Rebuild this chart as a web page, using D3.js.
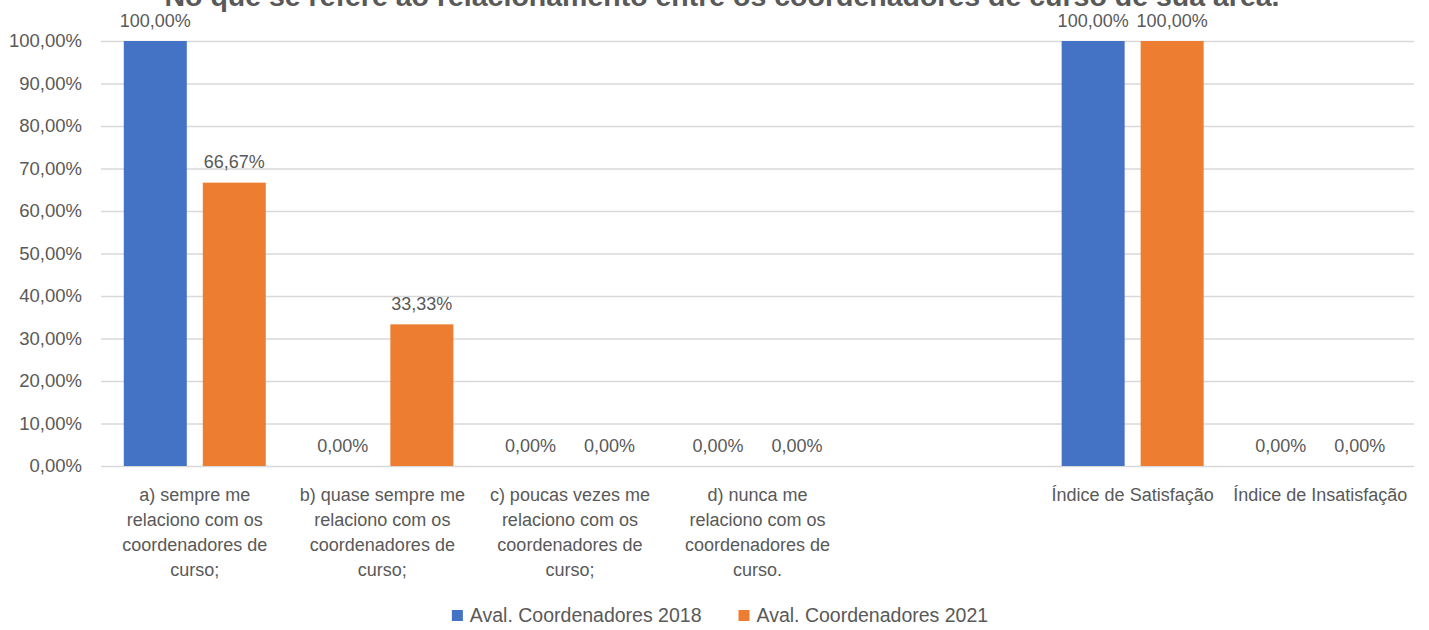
<!DOCTYPE html>
<html>
<head>
<meta charset="utf-8">
<script src="https://cdn.jsdelivr.net/npm/d3@7"></script>
<style>
  html, body { margin: 0; padding: 0; background: #fff; }
  svg { display: block; font-family: 'Liberation Sans', Arial, sans-serif; }
</style>
</head>
<body>
<script>
'use strict';

const WIDTH = 1429;
const HEIGHT = 630;

const TITLE = 'No que se refere ao relacionamento entre os coordenadores de curso de sua área.';

// Category keys, with the wrapped lines of each axis label.
const CATEGORIES = ['a', 'b', 'c', 'd', 'blank', 'sat', 'insat'];
const CATEGORY_LINES = [
    ['a) sempre me', 'relaciono com os', 'coordenadores de', 'curso;'],
    ['b) quase sempre me', 'relaciono com os', 'coordenadores de', 'curso;'],
    ['c) poucas vezes me', 'relaciono com os', 'coordenadores de', 'curso;'],
    ['d) nunca me', 'relaciono com os', 'coordenadores de', 'curso.'],
    [],
    ['Índice de Satisfação'],
    ['Índice de Insatisfação'],
];

const SERIES = ['Aval. Coordenadores 2018', 'Aval. Coordenadores 2021'];
const VALUES_2018 = [1.0, 0.0, 0.0, 0.0, null, 1.0, 0.0];
const VALUES_2021 = [0.6667, 0.3333, 0.0, 0.0, null, 1.0, 0.0];
const Y_TICKS = [0, 0.1, 0.2, 0.3, 0.4, 0.5, 0.6, 0.7, 0.8, 0.9, 1.0];

const COLORS = ['#4472C4', '#ED7D31'];
const TEXT_COLOR = '#595959';
const GRID_COLOR = '#D9D9D9';

const PLOT_LEFT = 101;
const PLOT_RIGHT = 1414;
const PLOT_TOP = 41;
const PLOT_BOTTOM = 466;

function main() {
    const locale = d3.formatLocale({
        decimal: ',', thousands: '.', grouping: [3], currency: ['R$', '']
    });
    const pct = locale.format('.2%');

    const svg = d3.select('body')
            .append('svg')
            .attr('width', WIDTH)
            .attr('height', HEIGHT);

    const x = d3.scaleBand()
            .domain(CATEGORIES)
            .range([PLOT_LEFT, PLOT_RIGHT])
            .paddingInner(0.243)
            .paddingOuter(0.1215);

    const x1 = d3.scaleBand()
            .domain(SERIES)
            .range([0, x.bandwidth()])
            .paddingInner(0.2025);

    const y = d3.scaleLinear()
            .domain([0, 1])
            .range([PLOT_BOTTOM, PLOT_TOP]);

    // Gridlines and y tick labels.
    const yAxis = svg.append('g')
            .attr('transform', `translate(${PLOT_LEFT},0)`)
            .call(d3.axisLeft(y)
                    .tickValues(Y_TICKS)
                    .tickSize(-(PLOT_RIGHT - PLOT_LEFT))
                    .tickPadding(19)
                    .tickFormat(pct));
    yAxis.select('.domain').remove();
    yAxis.selectAll('line')
            .attr('stroke', GRID_COLOR)
            .attr('stroke-width', 1.5);
    yAxis.selectAll('text')
            .attr('fill', TEXT_COLOR)
            .style('font-size', '18.5px')
            .style('font-family', "'Liberation Sans', Arial, sans-serif");

    // Rows of data, one per category.
    const rows = CATEGORIES.map((c, i) => ({
        cat: c,
        values: [VALUES_2018[i], VALUES_2021[i]],
    }));

    const groups = svg.selectAll('g.group')
            .data(rows)
            .enter()
            .append('g')
            .attr('class', 'group')
            .attr('transform', d => `translate(${x(d.cat)},0)`);

    const cells = groups.selectAll('g.cell')
            .data(d => d.values.map((v, j) => ({ series: SERIES[j], value: v, idx: j })))
            .enter()
            .filter(d => d.value !== null)
            .append('g')
            .attr('class', 'cell');

    cells.append('rect')
            .attr('x', d => x1(d.series))
            .attr('y', d => y(d.value))
            .attr('width', x1.bandwidth())
            .attr('height', d => y(0) - y(d.value))
            .attr('fill', d => COLORS[d.idx]);

    cells.append('text')
            .attr('x', d => x1(d.series) + x1.bandwidth() / 2)
            .attr('y', d => y(d.value) - 14.5)
            .attr('text-anchor', 'middle')
            .attr('fill', TEXT_COLOR)
            .style('font-size', '18px')
            .text(d => pct(d.value));

    // Category labels, already split into lines.
    const catLabels = svg.append('g');
    CATEGORIES.forEach(function(c, i) {
        const t = catLabels.append('text')
                .attr('x', x(c) + x.bandwidth() / 2)
                .attr('y', 501)
                .attr('text-anchor', 'middle')
                .attr('fill', TEXT_COLOR)
                .style('font-size', '18px');
        CATEGORY_LINES[i].forEach(function(line, k) {
            t.append('tspan')
                    .attr('x', x(c) + x.bandwidth() / 2)
                    .attr('y', 501 + k * 25)
                    .text(line);
        });
    });

    // Title (runs off the top edge, as in the original).
    svg.append('text')
            .attr('x', 722)
            .attr('y', 6)
            .attr('text-anchor', 'middle')
            .attr('fill', TEXT_COLOR)
            .style('font-size', '28.5px')
            .style('font-weight', 'bold')
            .text(TITLE);

    // Legend.
    const legend = svg.append('g');
    let cursor = 0;
    SERIES.forEach(function(s, i) {
        const item = legend.append('g').attr('transform', `translate(${cursor},0)`);
        item.append('rect')
                .attr('x', 0)
                .attr('y', -12)
                .attr('width', 11)
                .attr('height', 11)
                .attr('fill', COLORS[i]);
        const label = item.append('text')
                .attr('x', 18)
                .attr('y', 0)
                .attr('fill', TEXT_COLOR)
                .style('font-size', '19.5px')
                .text(s);
        cursor += 18 + label.node().getComputedTextLength() + 37;
    });
    const legendWidth = cursor - 37;
    legend.attr('transform', `translate(${720 - legendWidth / 2},622)`);
}

document.addEventListener('DOMContentLoaded', function() {
    main();
});
</script>
</body>
</html>
